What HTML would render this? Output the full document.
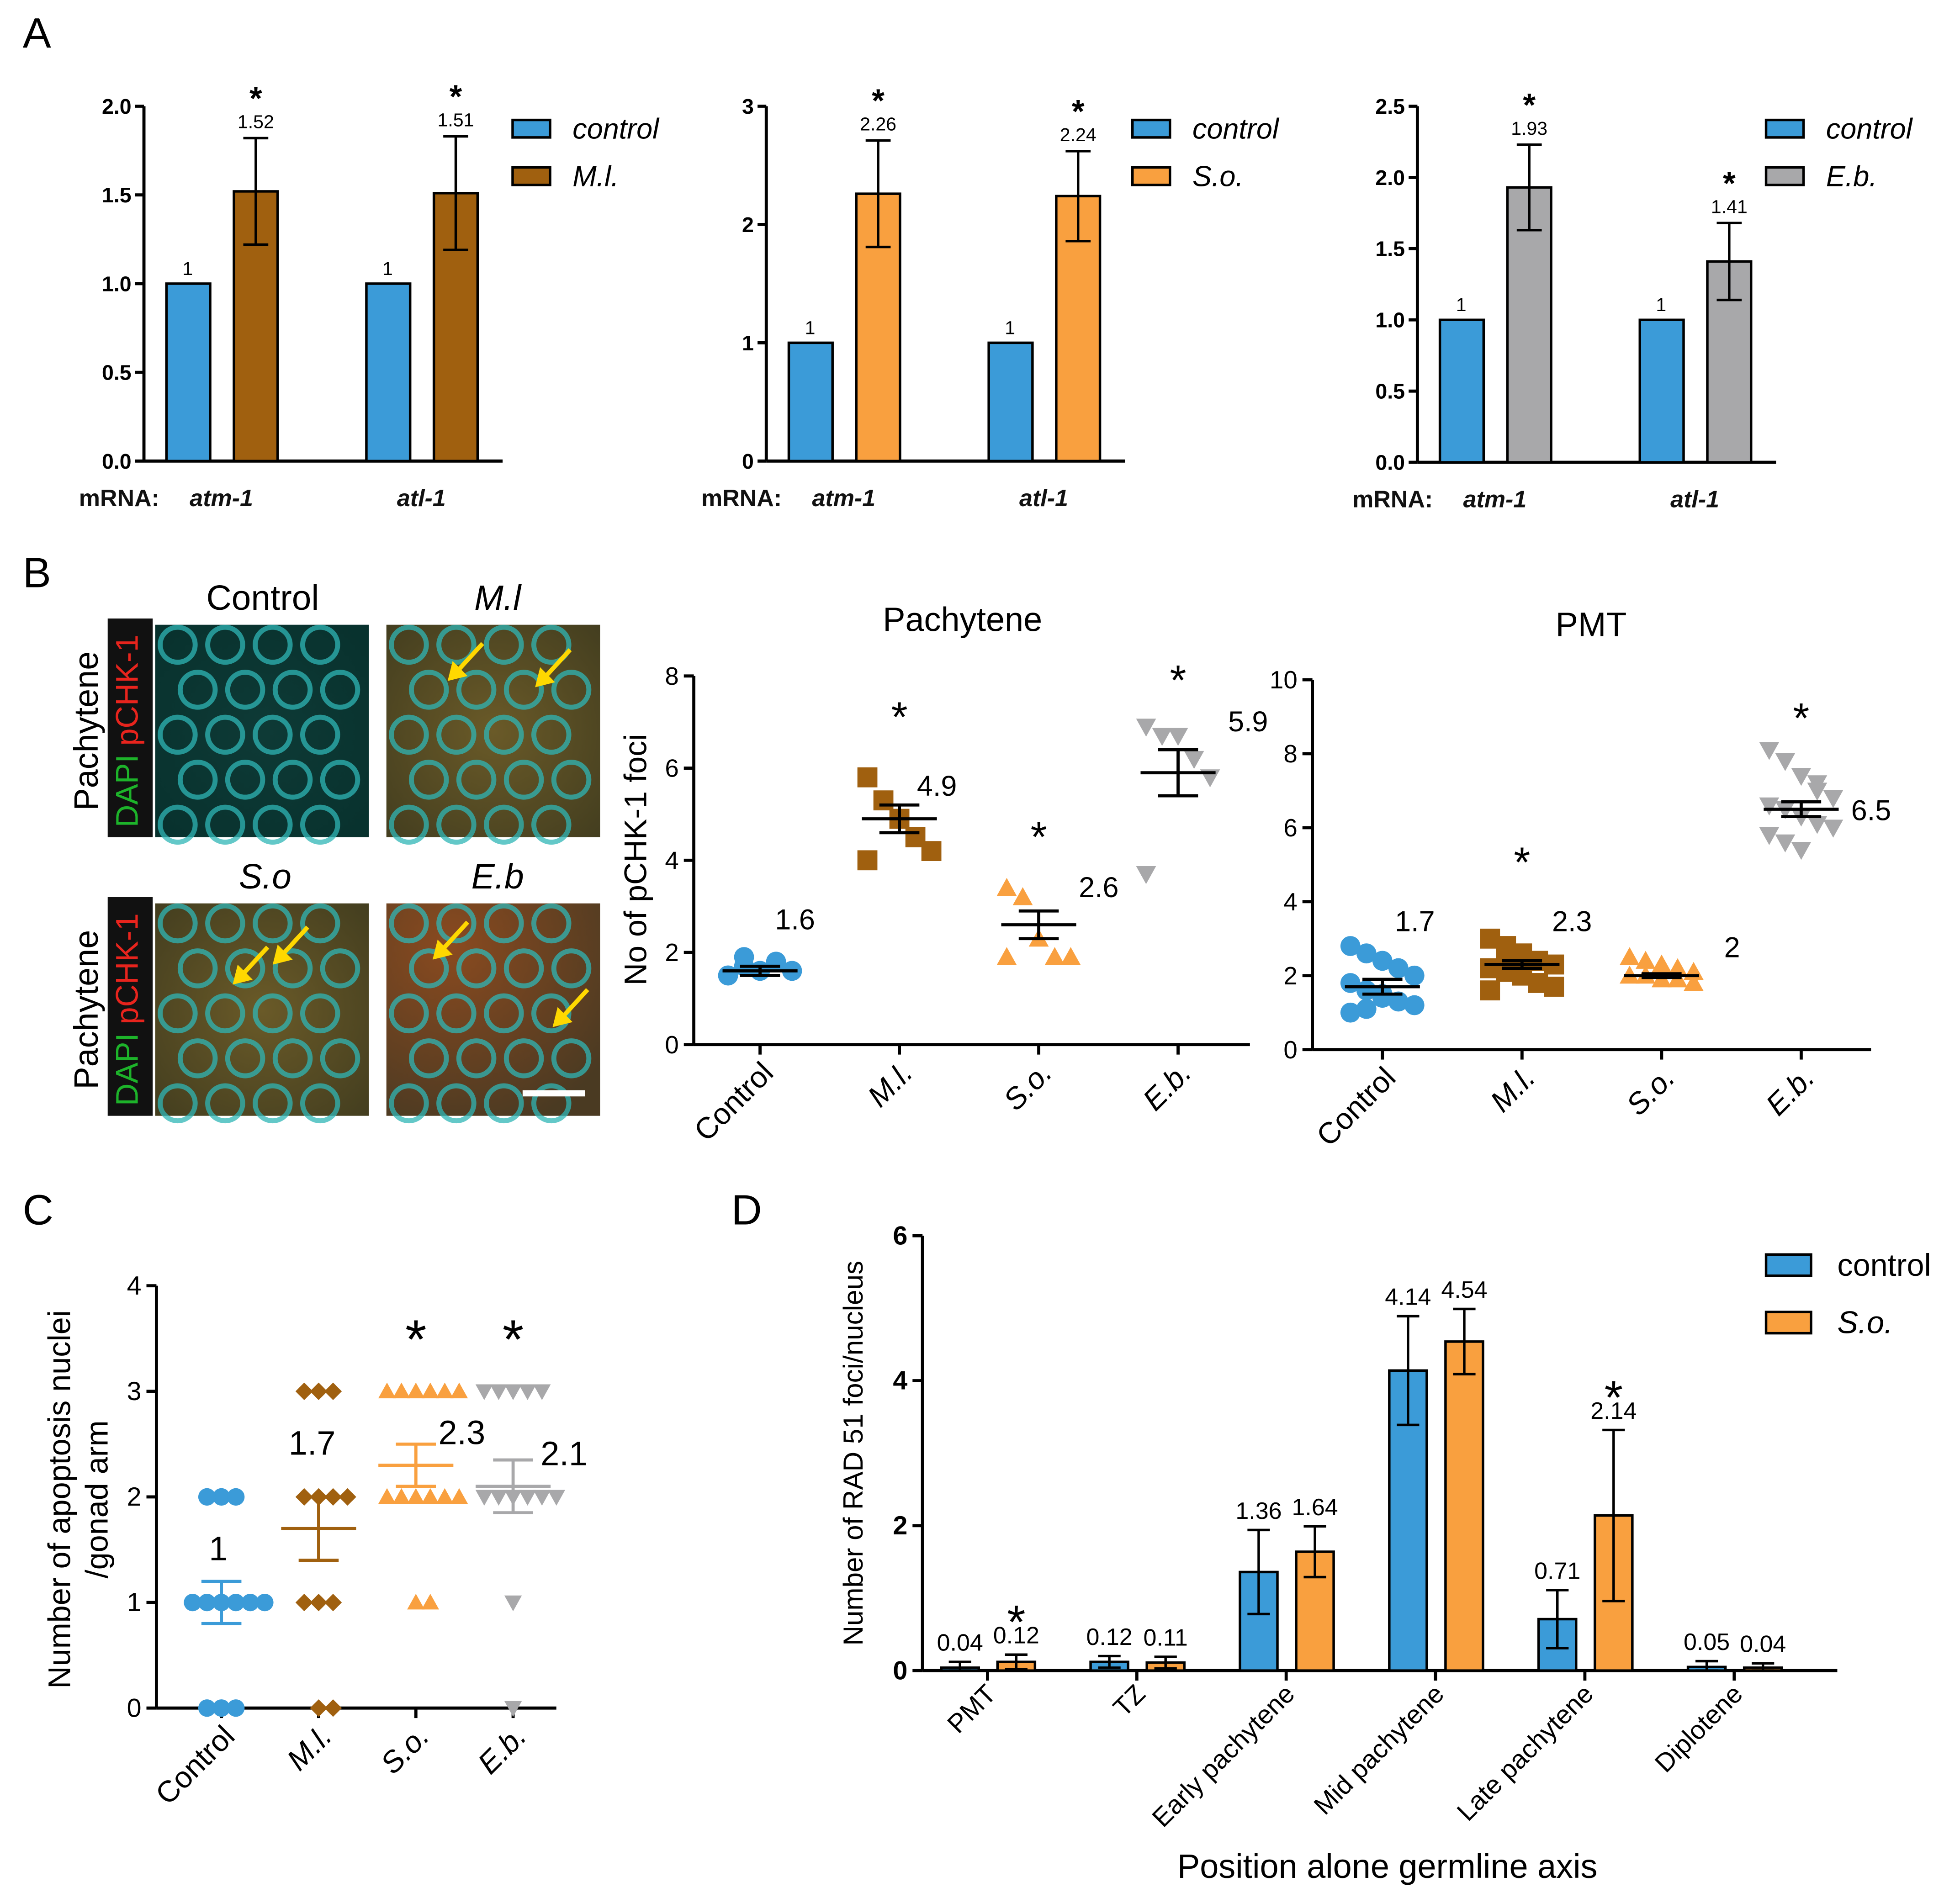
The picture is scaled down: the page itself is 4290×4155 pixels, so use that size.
<!DOCTYPE html>
<html><head><meta charset="utf-8"><style>
html,body{margin:0;padding:0;background:#fff}
svg{display:block}
text{font-family:"Liberation Sans",sans-serif}
</style></head><body>
<svg id="fig" width="4290" height="4155" viewBox="0 0 1568 1519" xmlns="http://www.w3.org/2000/svg">
<defs>
<radialGradient id="gCtl" cx="0.5" cy="0.5" r="0.8"><stop offset="0" stop-color="#0e3a36"/><stop offset="1" stop-color="#07302c"/></radialGradient>
<radialGradient id="gOr" cx="0.5" cy="0.5" r="0.8"><stop offset="0" stop-color="#6a5a28"/><stop offset="1" stop-color="#3e3a1e"/></radialGradient>
<radialGradient id="gRed" cx="0.3" cy="0.2" r="0.9"><stop offset="0" stop-color="#8a4a20"/><stop offset="1" stop-color="#4a3a22"/></radialGradient>
</defs>
<g id="root"></g>
</svg>
<script>
// ---------- DATA ----------
const aGenes = ["atm-1","atl-1"];
const a1Ctrl = [1,1], a1Trt = [1.52,1.51], a1Err = [0.30,0.32], a1Star=[true,true];
const a2Ctrl = [1,1], a2Trt = [2.26,2.24], a2Err = [0.45,0.38], a2Star=[true,true];
const a3Ctrl = [1,1], a3Trt = [1.93,1.41], a3Err = [0.30,0.27], a3Star=[true,true];
const bCats = ["Control","M.l.","S.o.","E.b."];
const pachCtl = [1.5,1.7,1.6,1.8,1.6,1.5,1.9];
const pachMl = [5.8,5.3,4.9,4.5,4.2,4.0];
const pachSo = [3.4,3.2,2.3,1.9,1.9,1.9];
const pachEb = [6.9,6.7,6.7,6.2,5.8,3.7];
const pachMean = [1.6,4.9,2.6,5.9], pachSem=[0.1,0.3,0.3,0.5], pachLabel=["1.6","4.9","2.6","5.9"], pachStar=[false,true,true,true];
const pmtCtl = [2.8,2.6,2.4,2.2,2.0,1.8,1.6,1.5,1.3,1.2,1.0,1.1,1.4];
const pmtMl = [3.0,2.8,2.6,2.4,2.3,2.2,2.1,2.0,1.8,1.7,1.6,2.5];
const pmtSo = [2.5,2.4,2.3,2.2,2.1,2.0,2.0,1.9,1.9,1.8];
const pmtEb = [8.1,7.8,7.4,7.0,6.8,6.6,6.5,6.3,6.1,6.0,5.8,5.6,5.4,7.2];
const pmtMean=[1.7,2.3,2.0,6.5], pmtSem=[0.2,0.1,0.05,0.2], pmtLabel=["1.7","2.3","2","6.5"], pmtStar=[false,true,false,true];
const cCtl=[2,2,2,1,1,1,1,1,0,0,0,1];
const cMl=[3,3,3,2,2,2,2,1,1,1,0,0];
const cSo=[3,3,3,3,3,3,2,2,2,2,2,2,1,1];
const cEb=[3,3,3,3,3,2,2,2,2,2,2,1,0];
const cMean=[1,1.7,2.3,2.1], cSem=[0.2,0.3,0.2,0.25], cLabel=["1","1.7","2.3","2.1"], cStar=[false,false,true,true];
const dCats=["PMT","TZ","Early pachytene","Mid pachytene","Late pachytene","Diplotene"];
const dCtl=[0.04,0.12,1.36,4.14,0.71,0.05], dCtlErr=[0.08,0.08,0.58,0.75,0.4,0.08];
const dSo=[0.12,0.11,1.64,4.54,2.14,0.04], dSoErr=[0.1,0.08,0.35,0.45,1.18,0.06];
const dCtlLbl=["0.04","0.12","1.36","4.14","0.71","0.05"], dSoLbl=["0.12","0.11","1.64","4.54","2.14","0.04"];
const dStar=[true,false,false,false,true,false];

const BLUE="#3b9bd8", BROWN="#a0600f", ORANGE="#f9a03f", GRAY="#a8a8aa";
const NS="http://www.w3.org/2000/svg";
const root=document.getElementById('root');
function el(tag,attrs,parent,txt){const e=document.createElementNS(NS,tag);for(const k in attrs)e.setAttribute(k,attrs[k]);if(txt!==undefined)e.textContent=txt;(parent||root).appendChild(e);return e;}
function line(x1,y1,x2,y2,w,c,p){return el('line',{x1,y1,x2,y2,stroke:c||'#000','stroke-width':w||2},p);}

// ---------- PANEL LETTERS ----------
[["A",18,38],["B",18,470],["C",18,980],["D",585,980]].forEach(([t,x,y])=>{
 const e=el('text',{x,y,'font-size':34},root,t);
 
 
});

// ---------- PANEL A ----------
function barChartA(o){
 const g=el('g',{});
 
 
 const y=v=>o.y0-(v/o.ymax)*(o.y0-o.ytop);
 line(o.ax,o.ytop,o.ax,o.y0,2.5,'#000',g);
 line(o.ax,o.y0,o.ax+o.len,o.y0,2.5,'#000',g);
 o.ticks.forEach(t=>{line(o.ax-7,y(t),o.ax,y(t),2.5,'#000',g);
  const tt=el('text',{x:o.ax-10,y:y(t)+6,'font-size':17,'font-weight':'bold','text-anchor':'end'},g,o.tfmt(t));
  
  });
 const ml=el('text',{x:o.ax-52,y:o.y0+36,'font-size':19,'font-weight':'bold','fill':'#111'},g,'mRNA:');
 
 
 aGenes.forEach((gn,i)=>{
  const x0=o.ax+18+i*160;
  const b1=el('rect',{x:x0,y:y(o.ctrl[i]),width:35,height:o.y0-y(o.ctrl[i]),fill:BLUE,stroke:'#000','stroke-width':2},g);
  
  
  el('text',{x:x0+17,y:y(o.ctrl[i])-7,'font-size':15,'text-anchor':'middle'},g,String(o.ctrl[i]));
  const x1=x0+54;
  const b2=el('rect',{x:x1,y:y(o.trt[i]),width:35,height:o.y0-y(o.trt[i]),fill:o.color,stroke:'#000','stroke-width':2},g);
  
  
  const cx=x1+17.5, yt=y(o.trt[i]+o.err[i]), yb=y(o.trt[i]-o.err[i]);
  line(cx,yt,cx,yb,2,'#000',g);line(cx-10,yt,cx+10,yt,2,'#000',g);line(cx-10,yb,cx+10,yb,2,'#000',g);
  el('text',{x:cx,y:yt-8,'font-size':15,'text-anchor':'middle'},g,o.trt[i].toFixed(2));
  if(o.star[i]) el('text',{x:cx,y:yt+5-28,'font-size':26,'font-weight':'bold','text-anchor':'middle'},g,'*');
  const gl=el('text',{x:x0+44,y:o.y0+36,'font-size':19,'font-style':'italic','font-weight':'bold','fill':'#111','text-anchor':'middle'},g,gn);
  
  
 });
 [["control",BLUE,0],[o.lab,o.color,1]].forEach(([t,c,k])=>{
  const r=el('rect',{x:o.lx,y:96+k*38,width:30,height:14,fill:c,stroke:'#000','stroke-width':2},g);
  
  
  const tx=el('text',{x:o.lx+48,y:111+k*38,'font-size':23,'font-style':'italic'},g,t);
  
  
 });
}
barChartA({name:'chart-a-ml',ax:115,y0:369,ytop:85,ymax:2,ticks:[0,0.5,1,1.5,2],tfmt:t=>t.toFixed(1),len:287,ctrl:a1Ctrl,trt:a1Trt,err:a1Err,star:a1Star,color:BROWN,lab:'M.l.',lx:410});
barChartA({name:'chart-a-so',ax:613,y0:369,ytop:85,ymax:3,ticks:[0,1,2,3],tfmt:t=>String(t),len:287,ctrl:a2Ctrl,trt:a2Trt,err:a2Err,star:a2Star,color:ORANGE,lab:'S.o.',lx:906});
barChartA({name:'chart-a-eb',ax:1134,y0:370,ytop:85,ymax:2.5,ticks:[0,0.5,1,1.5,2,2.5],tfmt:t=>t.toFixed(1),len:287,ctrl:a3Ctrl,trt:a3Trt,err:a3Err,star:a3Star,color:GRAY,lab:'E.b.',lx:1413});

// ---------- PANEL B IMAGES ----------
function micro(x,y,w,h,fill,name,arrows){
 const g=el('g',{});
 
 
 el('rect',{x,y,width:w,height:h,fill},g);
 for(let r=0;r<5;r++)for(let c=0;c<5;c++){
  const cx=x+18+c*38+(r%2)*16, cy=y+16+r*36;
  if(cx<x+w-6&&cy<y+h-4) el('circle',{cx,cy,r:14,fill:'none',stroke:'#2fb5b5','stroke-width':4,opacity:0.75},g);
 }
 arrows.forEach(([ax,ay])=>{
  line(ax+28,ay-30,ax+6,ay-6,3.5,'#ffd800',g);
  el('polygon',{points:`${ax},${ay} ${ax+4},${ay-16} ${ax+16},${ay-4}`,fill:'#ffd800'},g);
 });
}
micro(124,500,171,170,'url(#gCtl)','image-control',[]);
micro(309,500,171,170,'url(#gOr)','image-ml',[[358,545],[428,550]]);
micro(124,723,171,170,'url(#gOr)','image-so',[[186,788],[218,772]]);
micro(309,723,171,170,'url(#gRed)','image-eb',[[346,768],[442,822]]);
const sb=line(418,875,468,875,5,'#fff');


[["Control",210,488,'normal'],["M.l",398,488,'italic'],["S.o",212,711,'italic'],["E.b",398,711,'italic']].forEach(([t,x,y,s])=>{
 const e=el('text',{x,y,'font-size':28,'text-anchor':'middle','font-style':s},root,t);
 
 
});
[585,808].forEach(cy=>{
 el('rect',{x:86,y:cy-90,width:36,height:175,fill:'#111'});
 const t=el('text',{transform:`translate(110,${cy}) rotate(-90)`,'font-size':25,'text-anchor':'middle'});
 
 
 el('tspan',{fill:'#1db32a'},t,'DAPI ');el('tspan',{fill:'#e8241d'},t,'pCHK-1');
 const p=el('text',{transform:`translate(78,${cy}) rotate(-90)`,'font-size':27,'text-anchor':'middle'},root,'Pachytene');
 
 
});

// ---------- SCATTER CHARTS ----------
const COLORS=[BLUE,BROWN,ORANGE,GRAY];
function marker(g,shape,cx,cy,c,s){
 if(shape==0) el('circle',{cx,cy,r:s,fill:c},g);
 else if(shape==1) el('rect',{x:cx-s,y:cy-s,width:2*s,height:2*s,fill:c},g);
 else if(shape==2) el('polygon',{points:`${cx},${cy-s} ${cx+s},${cy+s*0.8} ${cx-s},${cy+s*0.8}`,fill:c},g);
 else if(shape==3) el('polygon',{points:`${cx},${cy+s} ${cx+s},${cy-s*0.8} ${cx-s},${cy-s*0.8}`,fill:c},g);
 else el('polygon',{points:`${cx},${cy-s} ${cx+s},${cy} ${cx},${cy+s} ${cx-s},${cy}`,fill:c},g);
}
function scatter(o){
 const g=el('g',{});
 
 
 const y=v=>o.y0-(v/o.ymax)*(o.y0-o.ytop);
 const xc=i=>o.x0+i*o.step;
 line(o.ax,o.ytop,o.ax,o.y0,2.5,'#000',g);
 line(o.ax,o.y0,o.ax+o.len,o.y0,2.5,'#000',g);
 o.ticks.forEach(t=>{line(o.ax-8,y(t),o.ax,y(t),2.5,'#000',g);
  const tt=el('text',{x:o.ax-12,y:y(t)+7,'font-size':o.tfs,'text-anchor':'end'},g,String(t));
  
  });
 bCats.forEach((c,i)=>{
  line(xc(i),o.y0,xc(i),o.y0+8,2.5,'#000',g);
  const t=el('text',{transform:`translate(${xc(i)+12},${o.y0+24}) rotate(-45)`,'font-size':o.cfs,'text-anchor':'end','font-style':i?'italic':'normal'},g,c);
  
  
  const vals=o.series[i];
  const seen={};
  vals.forEach((v,k)=>{
   const key=v.toFixed(1);seen[key]=(seen[key]||0)+1;const n=seen[key]-1;
   const off=o.discrete? (n%2?1:-1)*Math.ceil(n/2)*o.ms*1.65 : ((k%5)-2)*o.ms*1.6;
   marker(g,o.shapes[i],xc(i)+off,y(v),COLORS[i],o.ms);
  });
  const lc=o.lineColor?COLORS[i]:'#000';
  const m=o.mean[i], s=o.sem[i];
  line(xc(i)-30,y(m),xc(i)+30,y(m),2.5,lc,g);
  line(xc(i),y(m+s),xc(i),y(m-s),2.5,lc,g);
  line(xc(i)-16,y(m+s),xc(i)+16,y(m+s),2.5,lc,g);
  line(xc(i)-16,y(m-s),xc(i)+16,y(m-s),2.5,lc,g);
  el('text',{x:xc(i)+o.lblDx[i],y:y(o.lblY[i]),'font-size':o.lfs,'text-anchor':'start'},g,o.label[i]);
  if(o.star[i]) el('text',{x:xc(i),y:y(o.starY[i])+o.sfs*0.55,'font-size':o.sfs,'text-anchor':'middle'},g,'*');
 });
 if(o.title){const t=el('text',{x:o.tx,y:o.ty,'font-size':27,'text-anchor':'middle'},g,o.title);
  
  }
 const yl=el('text',{transform:`translate(${o.ylx},${o.yly}) rotate(-90)`,'font-size':o.ylfs,'text-anchor':'middle'},g,o.ylab||'');
 
 
}
scatter({name:'chart-b-pachytene',ax:555,y0:836,ytop:541,ymax:8,len:445,ticks:[0,2,4,6,8],tfs:20,cfs:24,x0:608,step:111.5,
 series:[pachCtl,pachMl,pachSo,pachEb],shapes:[0,1,2,3],ms:8,mean:pachMean,sem:pachSem,label:pachLabel,
 lblDx:[12,14,32,40],lblY:[2.5,5.4,3.2,6.8],lfs:23,star:pachStar,starY:[0,7.3,4.7,8.1],sfs:34,
 title:'Pachytene',tx:770,ty:505,ylab:'No of pCHK-1 foci',ylx:517,yly:688,ylfs:25});
scatter({name:'chart-b-pmt',ax:1050,y0:840,ytop:544,ymax:10,len:447,ticks:[0,2,4,6,8,10],tfs:20,cfs:24,x0:1106,step:111.7,
 series:[pmtCtl,pmtMl,pmtSo,pmtEb],shapes:[0,1,2,3],ms:8,mean:pmtMean,sem:pmtSem,label:pmtLabel,
 lblDx:[10,24,50,40],lblY:[3.2,3.2,2.5,6.2],lfs:23,star:pmtStar,starY:[0,5.3,0,9.2],sfs:34,
 title:'PMT',tx:1273,ty:509,ylab:'',ylx:0,yly:0,ylfs:25});
scatter({name:'chart-c-apoptosis',ax:125,y0:1367,ytop:1029,ymax:4,len:320,ticks:[0,1,2,3,4],tfs:21,cfs:24,x0:177,step:77.8,
 series:[cCtl,cMl,cSo,cEb],shapes:[0,4,2,3],ms:7,discrete:true,lineColor:true,mean:cMean,sem:cSem,label:cLabel,
 lblDx:[-10,-24,18,22],lblY:[1.4,2.4,2.5,2.3],lfs:27,star:cStar,starY:[0,0,3.6,3.6],sfs:44,
 ylab:'Number of apoptosis nuclei',ylx:56,yly:1200,ylfs:25});
{const t=el('text',{transform:'translate(86,1200) rotate(-90)','font-size':25,'text-anchor':'middle'},root,'/gonad arm');
 
 }

// ---------- PANEL D ----------
(function(){
 const g=el('g',{});
 
 
 const ax=738,y0=1337,ytop=989,ymax=6;
 const y=v=>y0-(v/ymax)*(y0-ytop);
 const gx=i=>790+i*119.5;
 line(ax,ytop,ax,y0,2.5,'#000',g);line(ax,y0,1470,y0,2.5,'#000',g);
 [0,2,4,6].forEach(t=>{line(ax-8,y(t),ax,y(t),2.5,'#000',g);
  const tt=el('text',{x:ax-12,y:y(t)+7,'font-size':21,'font-weight':'bold','text-anchor':'end'},g,String(t));
  
  });
 dCats.forEach((c,i)=>{
  line(gx(i),y0,gx(i),y0+8,2.5,'#000',g);
  const t=el('text',{transform:`translate(${gx(i)+8},${y0+20}) rotate(-45)`,'font-size':21,'text-anchor':'end'},g,c);
  
  
  [[dCtl,dCtlErr,dCtlLbl,BLUE,-37],[dSo,dSoErr,dSoLbl,ORANGE,8]].forEach(([v,e,l,col,dx],k)=>{
   const x=gx(i)+dx;
   const r=el('rect',{x,y:y(v[i]),width:30,height:y0-y(v[i]),fill:col,stroke:'#000','stroke-width':2},g);
   
   
   const cx=x+15, yt=y(v[i]+e[i]), yb=y(Math.max(0,v[i]-e[i]));
   line(cx,yt,cx,yb,2,'#000',g);line(cx-9,yt,cx+9,yt,2,'#000',g);line(cx-9,yb,cx+9,yb,2,'#000',g);
   el('text',{x:cx,y:yt-9,'font-size':19,'text-anchor':'middle'},g,l[i]);
   if(k==1&&dStar[i]) el('text',{x:cx,y:yt-9-26+22,'font-size':38,'text-anchor':'middle'},g,'*');
  });
 });
 const yl=el('text',{transform:'translate(690,1163) rotate(-90)','font-size':22,'text-anchor':'middle'},g,'Number of RAD 51 foci/nucleus');
 
 
 const xl=el('text',{x:1110,y:1503,'font-size':27,'text-anchor':'middle'},g,'Position alone germline axis');
 
 
 [["control",BLUE,'normal'],["S.o.",ORANGE,'italic']].forEach(([t,c,s],k)=>{
  const r=el('rect',{x:1413,y:1004+k*46,width:36,height:17,fill:c,stroke:'#000','stroke-width':2},g);
  
  
  const tx=el('text',{x:1470,y:1021+k*46,'font-size':25,'font-style':s},g,t);
  
  
 });
})();
</script>
</body></html>
